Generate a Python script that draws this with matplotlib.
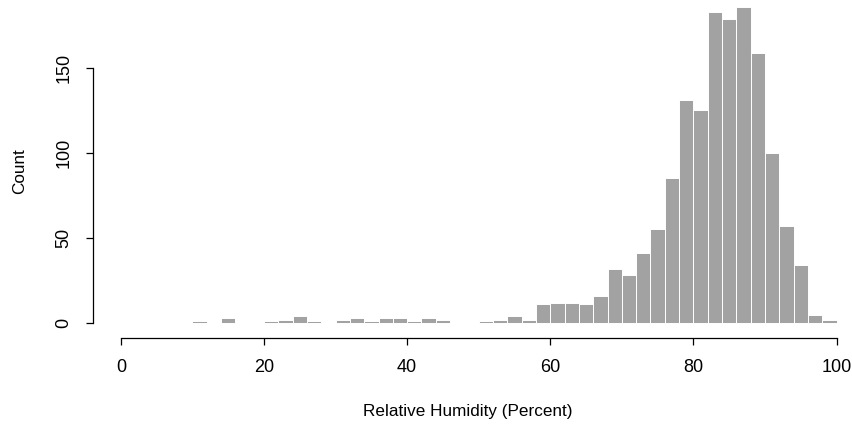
import numpy as np
from matplotlib import pyplot as plt

plt.rcParams['font.family'] = ['Liberation Sans', 'DejaVu Sans']

# histogram of relative humidity, bins of width 2 from 0 to 100
bin_edges = np.arange(0, 102, 2)
counts = [0, 0, 0, 0, 0, 1, 0, 3, 0, 0,
          1, 2, 4, 1, 0, 2, 3, 1, 3, 3,
          1, 3, 2, 0, 0, 1, 2, 4, 2, 11,
          12, 12, 11, 16, 32, 28, 41, 55, 85, 131,
          125, 183, 179, 186, 159, 100, 57, 34, 5, 2]
x_ticks = [0, 20, 40, 60, 80, 100]
y_ticks = [0, 50, 100, 150]

fig = plt.figure(figsize=(8.52, 4.26), dpi=100)
ax = fig.add_axes([93 / 852, 88 / 426, 750 / 852, 333 / 426])

ax.bar(bin_edges[:-1], counts, width=2, align='edge',
       color='#a2a2a2', edgecolor='white', linewidth=0.7)

ax.set_xlim(-3.9, 100.9)
ax.set_ylim(-8.8, 187)

for s in ['top', 'right']:
    ax.spines[s].set_visible(False)
ax.spines['left'].set_bounds(0, 150)
ax.spines['bottom'].set_bounds(0, 100)
ax.spines['left'].set_linewidth(0.9)
ax.spines['bottom'].set_linewidth(0.9)

ax.set_xticks(x_ticks)
ax.set_yticks(y_ticks)
ax.set_yticklabels([str(v) for v in y_ticks], rotation=90, va='center')
ax.tick_params(direction='out', length=5, width=0.9, labelsize=13, pad=10)

ax.set_xlabel('Relative Humidity (Percent)', fontsize=12.3, labelpad=20)
ax.set_ylabel('Count', fontsize=12.3, labelpad=20)

fig.savefig('out.png', dpi=100)
